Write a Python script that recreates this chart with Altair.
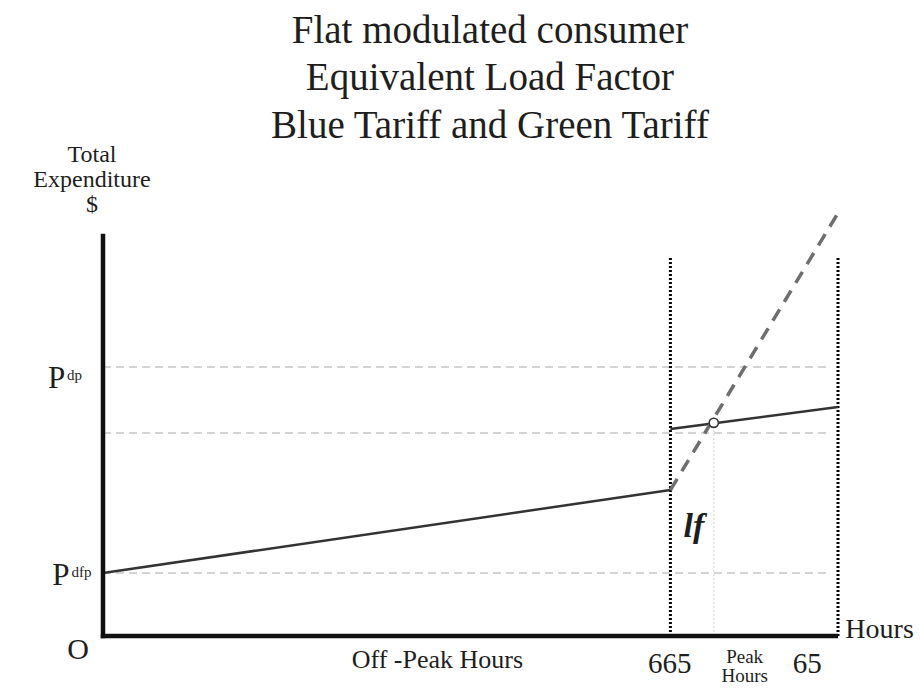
import altair as alt
import pandas as pd

# ---- data (abstract units: x = hours scale 0..100, y = expenditure 0..100) ----
offpeak_x = [0, 77.2]
offpeak_y = [15.75, 36.5]
peak_x = [77.2, 100]
peak_y = [51.75, 57.25]
blue_x = [77.2, 100]
blue_y = [36.5, 105.75]
lf_point_x = [83.1]
lf_point_y = [53.3]

level_names = ["Pdp", "mid", "Pdfp"]
level_y = [67.25, 50.75, 15.75]
level_x_end = [98.9, 98.9, 98.9]

period_x = [77.2, 100]
period_top = [94.75, 94.75]
lf_x = 83.1

FONT = "Liberation Serif"
INK = "#1e1e1e"

title_lines = ["Flat modulated consumer", "Equivalent Load Factor", "Blue Tariff and Green Tariff"]
title_x = [52.65, 52.65, 52.65]
title_y = [148.25, 136.4, 124.5]

ylab_lines = ["Total", "Expenditure", "$"]
ylab_x = [-1.5, -1.5, -1.5]
ylab_y = [118.5, 112.25, 106.0]

big_text = ["P", "P", "O", "665", "65", "Hours"]
big_x = [-7.5, -6.9, -3.4, 77.1, 95.8, 101.0]
big_y = [62.0, 12.75, -5.75, -9.25, -9.25, -0.5]
big_align = ["left", "left", "center", "center", "center", "left"]

sup_text = ["dp", "dfp"]
sup_x = [-4.9, -4.3]
sup_y = [64.0, 14.75]

mid_text = ["Off -Peak  Hours"]
mid_x = [45.5]
mid_y = [-8.0]

small_text = ["Peak", "Hours"]
small_x = [87.3, 87.3]
small_y = [-6.75, -11.5]

xs = alt.Scale(domain=[0, 100], nice=False, zero=False)
ys = alt.Scale(domain=[0, 100], nice=False, zero=False)

def seg(xv, yv):
    return pd.DataFrame({"x": xv, "y": yv})

# guide lines
levels = pd.DataFrame({"name": level_names, "y": level_y, "x2": level_x_end, "x": [0, 0, 0]})
h_dashed = alt.Chart(levels).mark_rule(color="#d4d4d4", strokeWidth=2, strokeDash=[8, 5]).encode(
    x=alt.X("x:Q", scale=xs, axis=None), x2="x2:Q", y=alt.Y("y:Q", scale=ys, axis=None))

periods = pd.DataFrame({"x": period_x, "y": [0, 0], "y2": period_top})
v_dotted = alt.Chart(periods).mark_rule(color="#000000", strokeWidth=3, strokeDash=[2, 2]).encode(
    x=alt.X("x:Q", scale=xs), y=alt.Y("y:Q", scale=ys), y2="y2:Q")

lf_guide = alt.Chart(pd.DataFrame({"x": [lf_x], "y": [0], "y2": lf_point_y})).mark_rule(
    color="#e2e2e2", strokeWidth=1.5, strokeDash=[2, 2]).encode(
    x=alt.X("x:Q", scale=xs), y=alt.Y("y:Q", scale=ys), y2="y2:Q")

# axes as thick rules
axes_df = pd.DataFrame({"x": [0, 0], "x2": [0, 99.7], "y": [0, 0], "y2": [100, 0]})
axes = alt.Chart(axes_df).mark_rule(color="#111111", strokeWidth=4.5, strokeCap="square").encode(
    x=alt.X("x:Q", scale=xs), x2="x2:Q", y=alt.Y("y:Q", scale=ys), y2="y2:Q")

line_off = alt.Chart(seg(offpeak_x, offpeak_y)).mark_line(color="#333333", strokeWidth=2.5).encode(
    x=alt.X("x:Q", scale=xs), y=alt.Y("y:Q", scale=ys))
line_peak = alt.Chart(seg(peak_x, peak_y)).mark_line(color="#333333", strokeWidth=2.5).encode(
    x=alt.X("x:Q", scale=xs), y=alt.Y("y:Q", scale=ys))
line_blue = alt.Chart(seg(blue_x, blue_y)).mark_line(color="#6e6e6e", strokeWidth=3.5, strokeDash=[13, 9]).encode(
    x=alt.X("x:Q", scale=xs), y=alt.Y("y:Q", scale=ys))

pt = alt.Chart(seg(lf_point_x, lf_point_y)).mark_point(
    shape="circle", size=85, filled=True, fill="white", stroke="#333333", strokeWidth=1.6, opacity=1).encode(
    x=alt.X("x:Q", scale=xs), y=alt.Y("y:Q", scale=ys))

def text_layer(txt, xv, yv, size, align="center", **kw):
    df = pd.DataFrame({"t": txt, "x": xv, "y": yv})
    return alt.Chart(df).mark_text(font=FONT, fontSize=size, color=INK, align=align,
                                   baseline="alphabetic", **kw).encode(
        x=alt.X("x:Q", scale=xs), y=alt.Y("y:Q", scale=ys), text="t:N")

title = text_layer(title_lines, title_x, title_y, 39)
ylab = text_layer(ylab_lines, ylab_x, ylab_y, 24)
big_sizes = [31, 31, 30, 29, 29, 28]
big_layers = [text_layer([t], [x], [y], s, align=a)
              for t, x, y, a, s in zip(big_text, big_x, big_y, big_align, big_sizes)]
sup = text_layer(sup_text, sup_x, sup_y, 15, align="left")
mid = text_layer(mid_text, mid_x, mid_y, 26)
small = text_layer(small_text, small_x, small_y, 19)
lf = text_layer(["lf"], [80.4], [24.75], 34, fontStyle="italic", fontWeight="bold")

chart = alt.layer(
    h_dashed, lf_guide, v_dotted, line_off, line_peak, line_blue, pt, axes,
    title, ylab, *big_layers, sup, mid, small, lf
).properties(
    width=735, height=400,
    padding={"left": 95, "top": 228, "right": 78, "bottom": 49},
    autosize=alt.AutoSizeParams(type="none"),
).configure_view(stroke=None)

chart.save("out.html", embed_options={"renderer": "svg", "actions": False})
